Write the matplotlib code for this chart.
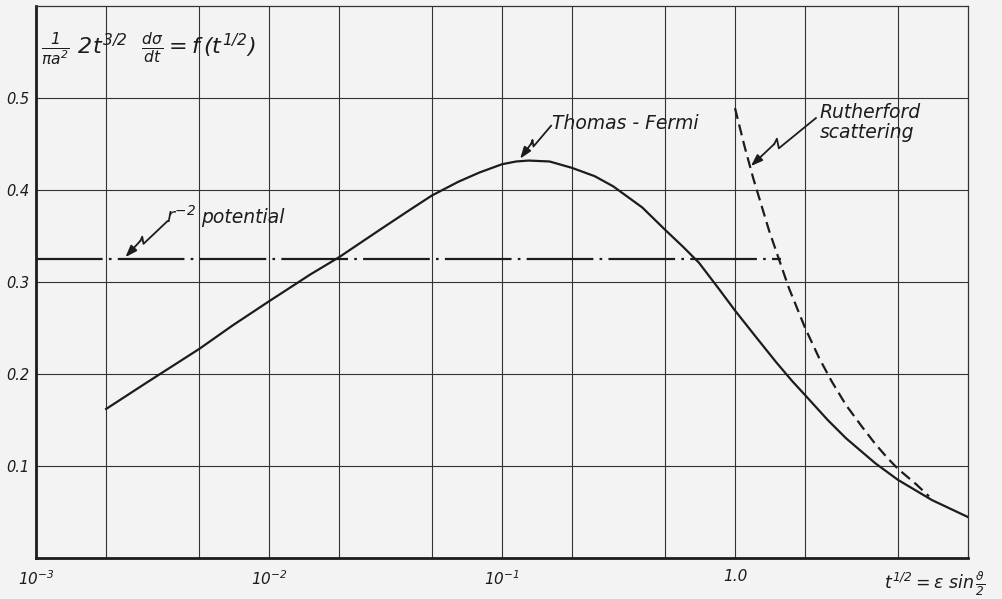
import matplotlib
matplotlib.use("Agg")
import matplotlib.pyplot as plt
from matplotlib.transforms import Affine2D
from matplotlib.lines import Line2D

# ---- data ----
tf_x = [0.002, 0.003, 0.005, 0.007, 0.01, 0.015, 0.02, 0.03, 0.04, 0.05, 0.065, 0.08, 0.1, 0.115,
        0.13, 0.16, 0.2, 0.25, 0.3, 0.4, 0.5, 0.6, 0.7, 0.85, 1.0, 1.25, 1.5, 1.75, 2.0,
        2.5, 3.0, 4.0, 5.0, 7.0, 10.0]
tf_y = [0.162, 0.191, 0.227, 0.253, 0.279, 0.308, 0.327, 0.357, 0.378, 0.394, 0.409, 0.419, 0.428, 0.431,
        0.432, 0.431, 0.424, 0.415, 0.404, 0.381, 0.357, 0.338, 0.321, 0.293, 0.269, 0.238, 0.213, 0.193, 0.177,
        0.150, 0.130, 0.103, 0.085, 0.063, 0.0445]

ruth_x = [1.0, 1.1, 1.2, 1.4, 1.7, 2.0, 2.3, 2.6, 3.0, 3.5, 4.0, 4.5, 5.0, 6.0, 6.8]
ruth_y = [0.489, 0.447, 0.412, 0.356, 0.294, 0.250, 0.217, 0.192, 0.166, 0.143, 0.124, 0.109, 0.097, 0.080, 0.067]

r2_x = [0.001, 1.58]
r2_y = [0.325, 0.325]

xgrid = [0.002, 0.005, 0.01, 0.02, 0.05, 0.1, 0.2, 0.5, 1.0, 2.0, 5.0]
ygrid = [0.1, 0.2, 0.3, 0.4, 0.5]
xtick_pos = [0.001, 0.01, 0.1, 1.0]
xtick_lab = [r"$10^{-3}$", r"$10^{-2}$", r"$10^{-1}$", "1.0"]
ytick_pos = [0.1, 0.2, 0.3, 0.4, 0.5]
ytick_lab = ["0.1", "0.2", "0.3", "0.4", "0.5"]

BG = "#f3f3f3"
INK = "#1c1c1c"
plt.rcParams["mathtext.fontset"] = "custom"
plt.rcParams["mathtext.it"] = "DejaVu Sans:italic"
plt.rcParams["mathtext.rm"] = "DejaVu Sans:italic"
plt.rcParams["mathtext.sf"] = "DejaVu Sans:italic"
plt.rcParams["mathtext.default"] = "it"

fig = plt.figure(figsize=(10.03, 5.99), dpi=100, facecolor=BG)
ax = fig.add_axes([36/1003, 1-558/599, (968-36)/1003, (558-6)/599])
ax.set_facecolor(BG)
ax.set_xscale("log")
ax.set_xlim(0.001, 10)
ax.set_ylim(0, 0.6)

for gx in xgrid:
    ax.axvline(gx, color="#333333", lw=0.8, zorder=1)
for gy in ygrid:
    ax.axhline(gy, color="#333333", lw=0.8, zorder=1)

for s in ["left", "bottom"]:
    ax.spines[s].set_linewidth(2.0)
    ax.spines[s].set_color(INK)
for s in ["top", "right"]:
    ax.spines[s].set_linewidth(0.9)
    ax.spines[s].set_color("#333333")

ax.tick_params(which="both", length=0)
ax.set_xticks(xtick_pos)
ax.set_xticklabels(xtick_lab, fontsize=11, style="italic", color=INK)
ax.set_xticks([], minor=True)
ax.set_yticks(ytick_pos)
ax.set_yticklabels(ytick_lab, fontsize=10.5, style="italic", color=INK)
ax.tick_params(axis="x", pad=8)
ax.tick_params(axis="y", pad=5)

lw = 1.6
ax.plot(tf_x, tf_y, color=INK, lw=lw, zorder=3, solid_joinstyle="round")
ax.plot(ruth_x, ruth_y, color=INK, lw=lw, zorder=3, linestyle=(0, (5, 2.6)))
ax.plot(r2_x, r2_y, color=INK, lw=lw, zorder=3, linestyle=(0, (30, 2.8, 1.2, 2.8)))

# texts
tkw = dict(fontsize=13.5, style="italic", color=INK, family="DejaVu Sans")
ax.text(0.0036, 0.364, r"$r^{-2}$", fontsize=14, color=INK, va="baseline", ha="left")
ax.text(0.0051, 0.364, "potential", va="baseline", ha="left", **tkw)
ax.text(0.164, 0.466, "Thomas - Fermi", va="baseline", ha="left", **tkw)
ax.text(2.30, 0.478, "Rutherford", va="baseline", ha="left", **tkw)
ax.text(2.30, 0.456, "scattering", va="baseline", ha="left", **tkw)

ax.text(0.00105, 0.553,
        r"$\frac{1}{\pi a^2}\ 2t^{3/2}\ \ \frac{d\sigma}{dt} = f\,(t^{1/2})$",
        fontsize=16, color=INK, va="center", ha="left")
fig.text(884/1003, 1-584/599, r"$t^{1/2} = \epsilon\ \sin\frac{\vartheta}{2}$",
         fontsize=12.5, color=INK, va="center", ha="left")

fig.canvas.draw()

def zigzag(tip, dx, dy):
    # tip in data coords, (dx, dy) total extent in px
    x0, y0 = ax.transData.transform(tip)
    fr = [(0.0, 0.0), (0.36, 0.46), (0.40, 0.57), (0.43, 0.37), (1.0, 1.0)]
    xs = [x0 + f[0]*dx for f in fr]
    ys = [y0 + f[1]*dy for f in fr]
    ln = Line2D(xs[1:], ys[1:], transform=Affine2D(), color=INK, lw=1.3, zorder=5)
    fig.add_artist(ln)
    ax.annotate("", xy=tip, xycoords="data",
                xytext=(fr[1][0]*dx*0.72, fr[1][1]*dy*0.72), textcoords="offset points",
                arrowprops=dict(arrowstyle="-|>,head_length=0.7,head_width=0.25",
                                color=INK, lw=1.3, shrinkA=0, shrinkB=0), zorder=5)

zigzag((0.00242, 0.327), 42, 36)
zigzag((0.1196, 0.434), 31, 33)
zigzag((1.17, 0.426), 65, 48)

fig.savefig("out.png", dpi=100, facecolor=BG)
